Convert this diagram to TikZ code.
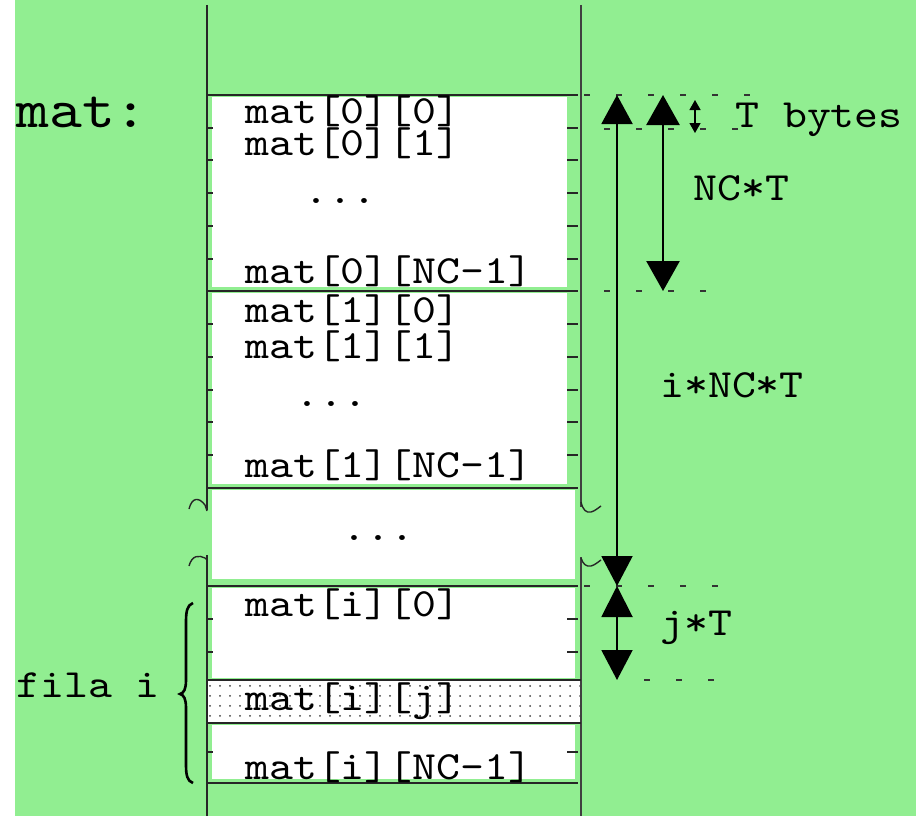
\documentclass[tikz,border=0pt]{standalone}
\usepackage{fontspec}
\newfontfamily\monof[FakeStretch=1.14]{lmmono10-regular.otf}
\usetikzlibrary{arrows.meta,patterns.meta}
\definecolor{bggreen}{RGB}{145,238,145}
\begin{document}
\begin{tikzpicture}[x=1pt,y=-1pt,
  lbl/.style={anchor=base west,inner sep=0pt,font=\monof\fontsize{40}{40}\selectfont,text=black},
  biglbl/.style={anchor=base west,inner sep=0pt,font=\monof\fontsize{55}{55}\selectfont,text=black},
  frameline/.style={line width=1.8pt,black!85},
  rframe/.style={line width=2.6pt,black!75},
  tickmark/.style={line width=1.5pt,black!85},
  guide/.style={line width=1.6pt,black!80,dash pattern=on 6pt off 26pt},
  cell/.style={fill=white,draw=none},
  bigarrow/.style={line width=2pt,{Triangle[width=31pt,length=29pt]}-{Triangle[width=31pt,length=30pt]}},
  brk/.style={line width=1.4pt,black!85}
]
\useasboundingbox (0,0) rectangle (916,816);
\fill[white] (0,0) rectangle (916,816);
\fill[bggreen] (15,0) rectangle (916,816);

% white cells
\fill[cell] (212,97) rectangle (567,287);
\fill[cell] (212,293) rectangle (567,484);
\fill[cell] (212,490) rectangle (575,579);
\fill[cell] (212,588) rectangle (575,678);
\fill[cell] (212,725) rectangle (575,779);
% selected element
\fill[white] (207,680) rectangle (581,723);
\fill[pattern={Dots[distance=10pt,radius=1pt]},pattern color=black!75] (207,680) rectangle (581,723);

% vertical lines (broken in the middle)
\draw[frameline] (207,5) -- (207,510);
\draw[frameline] (207,555) -- (207,816);
\draw[rframe] (581,5) -- (581,507);
\draw[rframe] (581,557) -- (581,816);

% horizontal lines
\foreach \yy in {95,291,488,586,783} \draw[frameline] (207,\yy) -- (578,\yy);
\foreach \yy in {680,723} \draw[frameline] (207,\yy) -- (581,\yy);

% ticks
\foreach \yy in {128,160,193,226,259,324,357,390,422,455,619,652,752} {
  \draw[tickmark] (207,\yy) -- (213,\yy);
  \draw[tickmark] (567,\yy) -- (578,\yy);
}

% break marks
\draw[brk] (189,509) .. controls (192,497) and (199,497) .. (205,505) -- (207,511);
\draw[brk] (189,566) .. controls (192,555) and (199,555) .. (205,558) -- (207,560);
\draw[brk] (581,502) .. controls (583,510) and (586,513) .. (591,512) .. controls (595,511) and (598,508) .. (601,506);
\draw[brk] (581,558) .. controls (583,564) and (586,567) .. (591,566) .. controls (595,565) and (598,562) .. (601,560);

% guide lines
\draw[guide] (584,95) -- (760,95);
\draw[guide] (604,129) -- (760,129);
\draw[guide] (604,291) -- (725,291);
\draw[guide] (584,586) -- (725,586);
\draw[guide] (644,680) -- (725,680);

% dimension arrows
\coordinate (a1) at (617,95);
\coordinate (a2) at (617,586);
\coordinate (b1) at (663,95);
\coordinate (b2) at (663,291);
\coordinate (c1) at (695,100);
\coordinate (c2) at (695,133);
\coordinate (d1) at (617,586);
\coordinate (d2) at (617,680);
\draw[bigarrow] (a1) -- (a2);
\draw[line width=2.6pt,{Triangle[width=33pt,length=30pt]}-{Triangle[width=33pt,length=30pt]}] (b1) -- (b2);
\draw[line width=1.3pt,{Triangle[width=11pt,length=10pt]}-{Triangle[width=11pt,length=10pt]}] (c1) -- (c2);
\draw[line width=2pt,{Triangle[width=31pt,length=31pt]}-{Triangle[width=31pt,length=30pt]}] (d1) -- (d2);

% brace
\draw[line width=2.6pt] (193,603) .. controls (187,605) and (186,612) .. (186,622) -- (186,680)
  .. controls (186,689) and (184,693) .. (180,694) .. controls (184,695) and (186,699) .. (186,708)
  -- (186,764) .. controls (186,775) and (187,781) .. (193,783);

% labels
\node[biglbl] (matlbl) at (16,127) {mat:};
\node[lbl] (e00) at (245,123) {mat[0][0]};
\node[lbl] (e01) at (245,155) {mat[0][1]};
\node[lbl] (d0) at (304,203) {...};
\node[lbl] (e0n) at (245,283) {mat[0][NC-1]};
\node[lbl] (e10) at (245,322) {mat[1][0]};
\node[lbl] (e11) at (245,358) {mat[1][1]};
\node[lbl] (d1l) at (295,406) {...};
\node[lbl] (e1n) at (245,477) {mat[1][NC-1]};
\node[lbl] (dm) at (342,540) {...};
\node[lbl] (ei0) at (245,616) {mat[i][0]};
\node[lbl] (eij) at (245,710) {mat[i][j]};
\node[lbl] (ein) at (245,779) {mat[i][NC-1]};
\node[lbl] (tb) at (735,127) {T bytes};
\node[lbl] (nct) at (693,200) {NC*T};
\node[lbl] (inct) at (660,397) {i*NC*T};
\node[lbl] (jt) at (660,635) {j*T};
\node[lbl] (fila) at (16,697) {fila i};
\end{tikzpicture}
\end{document}
